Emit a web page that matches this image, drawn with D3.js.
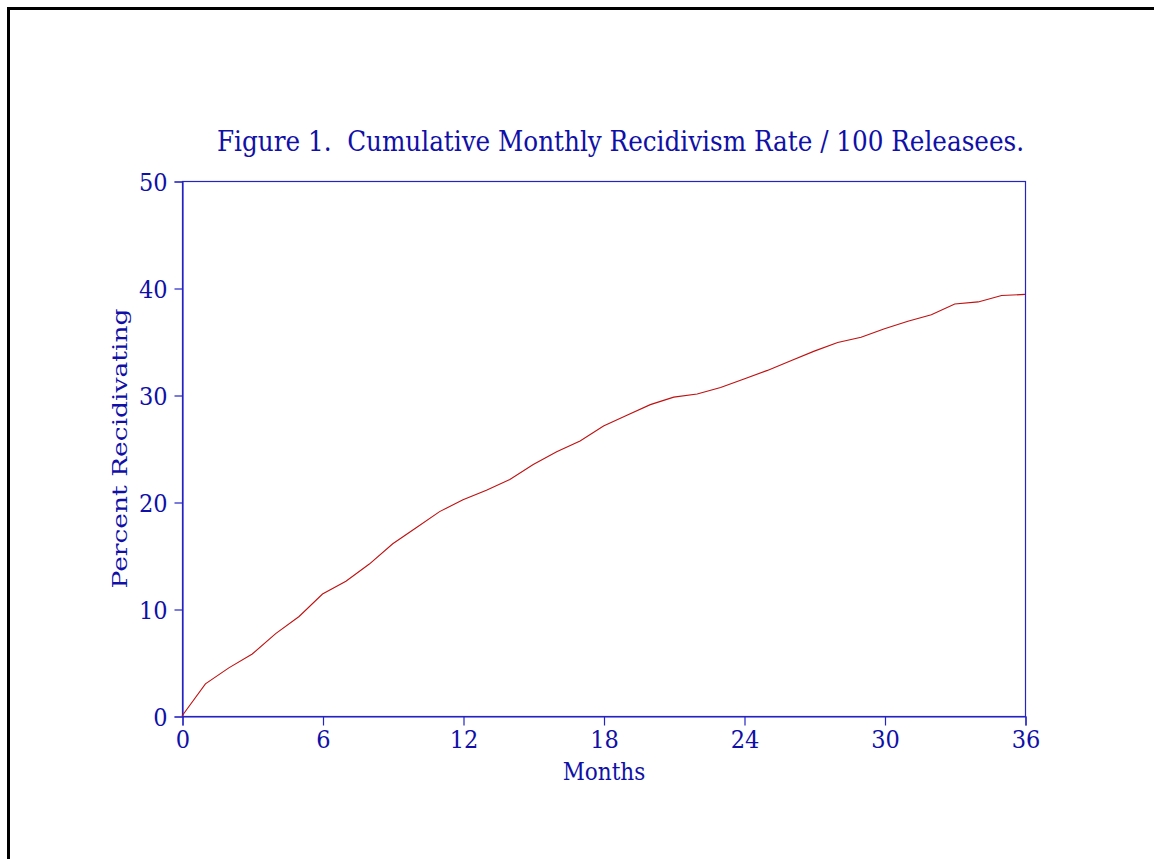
<!DOCTYPE html>
<html>
<head>
<meta charset="utf-8">
<script src="https://cdn.jsdelivr.net/npm/d3@7"></script>
<style>
  body { margin: 0; background: #fff; }
  svg text { font-family: "DejaVu Serif", serif; fill: #1010a8; }
  .cond { font-stretch: condensed; }
</style>
</head>
<body>
<script>
// cumulative recidivism rate per 100 releasees, by month
const months = d3.range(0, 37);
const rates = [0, 3.0, 4.5, 5.8, 7.7, 9.3, 11.4, 12.6, 14.2, 16.1, 17.6, 19.1,
  20.2, 21.1, 22.1, 23.5, 24.7, 25.7, 27.1, 28.1, 29.1, 29.8, 30.1, 30.7,
  31.5, 32.3, 33.2, 34.1, 34.9, 35.4, 36.2, 36.9, 37.5, 38.5, 38.7, 39.3, 39.4];
const xTicks = [0, 6, 12, 18, 24, 30, 36];
const yTicks = [0, 10, 20, 30, 40, 50];

const W = 1154, H = 859;
const plotL = 182, plotR = 1025, plotT = 181, plotB = 716;
const blue = '#2424c4';

const svg = d3.select('body').append('svg')
  .attr('width', W)
  .attr('height', H);

// page frame (left and top edge)
svg.append('path')
  .attr('d', 'M8.5,' + H + 'V8.5H' + W)
  .attr('fill', 'none')
  .attr('stroke', '#000')
  .attr('stroke-width', 3);

const x = d3.scaleLinear().domain([0, 36]).range([plotL, plotR]);
const y = d3.scaleLinear().domain([0, 50]).range([plotB, plotT]);

// plot box
svg.append('rect')
  .attr('x', plotL + 0.5)
  .attr('y', plotT + 0.5)
  .attr('width', plotR - plotL)
  .attr('height', plotB - plotT)
  .attr('fill', 'none')
  .attr('stroke', blue)
  .attr('stroke-width', 1.2);

const xAxis = svg.append('g')
  .attr('transform', 'translate(0.5,' + (plotB + 0.5) + ')')
  .call(d3.axisBottom(x).tickValues(xTicks).tickSize(9).tickPadding(5));

const yAxis = svg.append('g')
  .attr('transform', 'translate(' + (plotL + 0.5) + ',0.5)')
  .call(d3.axisLeft(y).tickValues(yTicks).tickSize(8).tickPadding(7));

[xAxis, yAxis].forEach(g => {
  g.select('.domain').attr('stroke', blue).attr('stroke-width', 1.2);
  g.selectAll('.tick line').attr('stroke', blue).attr('stroke-width', 1.2);
  g.selectAll('.tick text')
    .attr('class', 'cond')
    .style('font-size', '25px')
    .attr('fill', '#1010a8');
});
yAxis.selectAll('.tick text').attr('dy', '0.36em');

// curve
const line = d3.line()
  .x((d, i) => x(months[i]))
  .y(d => y(d));

svg.append('path')
  .datum(rates)
  .attr('d', line)
  .attr('fill', 'none')
  .attr('stroke', '#c01010')
  .attr('stroke-width', 1.1);

// title
svg.append('text')
  .attr('class', 'cond')
  .attr('x', 217)
  .attr('y', 151)
  .attr('textLength', 807)
  .attr('lengthAdjust', 'spacingAndGlyphs')
  .style('font-size', '27px')
  .style('white-space', 'pre')
  .text('Figure 1.  Cumulative Monthly Recidivism Rate / 100 Releasees.');

// axis labels
svg.append('text')
  .attr('class', 'cond')
  .attr('x', 604)
  .attr('y', 780)
  .attr('text-anchor', 'middle')
  .style('font-size', '24px')
  .text('Months');

svg.append('text')
  .attr('transform', 'translate(127,' + ((plotT + plotB) / 2) + ') rotate(-90)')
  .attr('text-anchor', 'middle')
  .attr('textLength', 280)
  .attr('lengthAdjust', 'spacingAndGlyphs')
  .style('font-size', '20px')
  .text('Percent Recidivating');
</script>
</body>
</html>
